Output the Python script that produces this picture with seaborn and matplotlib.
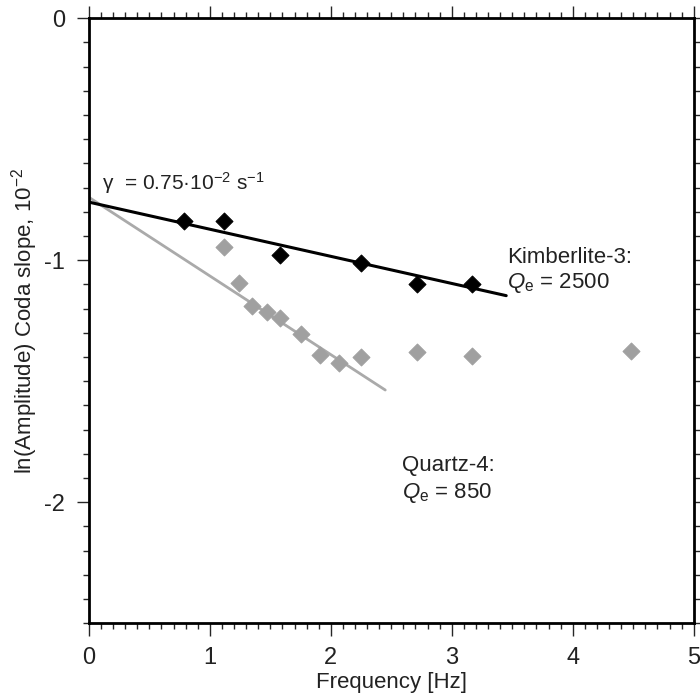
import numpy as np
import pandas as pd
import matplotlib.pyplot as plt
import seaborn as sns
from matplotlib.ticker import MultipleLocator

# data
kimb_freq = [0.79, 1.12, 1.58, 2.25, 2.71, 3.17]
kimb_slope = [-0.84, -0.84, -0.98, -1.01, -1.10, -1.10]

quartz_freq = [1.12, 1.24, 1.35, 1.47, 1.58, 1.75, 1.91, 2.07, 2.25, 2.71, 3.17, 4.48]
quartz_slope = [-0.945, -1.095, -1.19, -1.215, -1.24, -1.305, -1.39, -1.425, -1.40, -1.38, -1.395, -1.375]

# fitted lines: intercept (gamma) and slope, plus x range
kimb_fit = {"intercept": -0.76, "slope": -0.112, "x": [0.0, 3.45]}
quartz_fit = {"intercept": -0.74, "slope": -0.325, "x": [0.0, 2.45]}

sns.set_style("white")
plt.rcParams["font.family"] = ["Liberation Sans", "DejaVu Sans"]
plt.rcParams["mathtext.fontset"] = "custom"
plt.rcParams["mathtext.rm"] = "Liberation Sans"
plt.rcParams["mathtext.it"] = "Liberation Sans:italic"
plt.rcParams["text.color"] = "#222222"
plt.rcParams["axes.labelcolor"] = "#222222"
plt.rcParams["xtick.labelcolor"] = "#222222"
plt.rcParams["ytick.labelcolor"] = "#222222"

kimb = pd.DataFrame({"freq": kimb_freq, "slope": kimb_slope})
quartz = pd.DataFrame({"freq": quartz_freq, "slope": quartz_slope})

def fit_df(p):
    x = np.array(p["x"])
    return pd.DataFrame({"freq": x, "slope": p["intercept"] + p["slope"] * x})

fig = plt.figure(figsize=(7, 6.98), dpi=100)
ax = fig.add_axes([0.127, 0.107, 0.864, 0.867])

sns.lineplot(data=fit_df(quartz_fit), x="freq", y="slope", color="#aaaaaa", lw=2, ax=ax)
sns.lineplot(data=fit_df(kimb_fit), x="freq", y="slope", color="black", lw=2.2, ax=ax)
sns.scatterplot(data=quartz, x="freq", y="slope", marker="D", s=75, color="#a0a0a0",
                edgecolor="#a0a0a0", ax=ax, zorder=3)
sns.scatterplot(data=kimb, x="freq", y="slope", marker="D", s=75, color="black",
                edgecolor="black", ax=ax, zorder=4)

ax.set_xlim(0, 5)
ax.set_ylim(-2.5, 0)
ax.xaxis.set_major_locator(MultipleLocator(1))
ax.xaxis.set_minor_locator(MultipleLocator(0.1))
ax.yaxis.set_minor_locator(MultipleLocator(0.1))
ax.set_yticks([0, -1, -2])
ax.set_yticklabels(["0", "-1", "-2"])

for s in ax.spines.values():
    s.set_visible(True)
    s.set_linewidth(2)
    s.set_color("black")

ax.tick_params(which="major", direction="out", length=9, width=1, labelsize=17,
               top=True, right=True, bottom=True, left=True, pad=8)
ax.tick_params(which="minor", direction="out", length=4, width=1,
               top=True, right=True, bottom=True, left=True)

ax.set_xlabel("Frequency [Hz]", fontsize=16, labelpad=2)
ax.set_ylabel(r"ln(Amplitude) Coda slope, 10$^{\mathrm{-2}}$", fontsize=16, labelpad=3)

ax.text(0.11, -0.68, "γ  = 0.75·10$^{\\mathrm{-2}}$ s$^{\\mathrm{-1}}$", fontsize=15,
        va="center", ha="left")
ax.text(3.46, -0.99, "Kimberlite-3:", fontsize=16, va="center", ha="left")
ax.text(3.46, -1.095, r"$Q_\mathrm{e}$ = 2500", fontsize=16, va="center", ha="left")
ax.text(2.59, -1.85, "Quartz-4:", fontsize=16, va="center", ha="left")
ax.text(2.59, -1.96, r"$Q_\mathrm{e}$ = 850", fontsize=16, va="center", ha="left")

fig.savefig("out.png", dpi=100)
